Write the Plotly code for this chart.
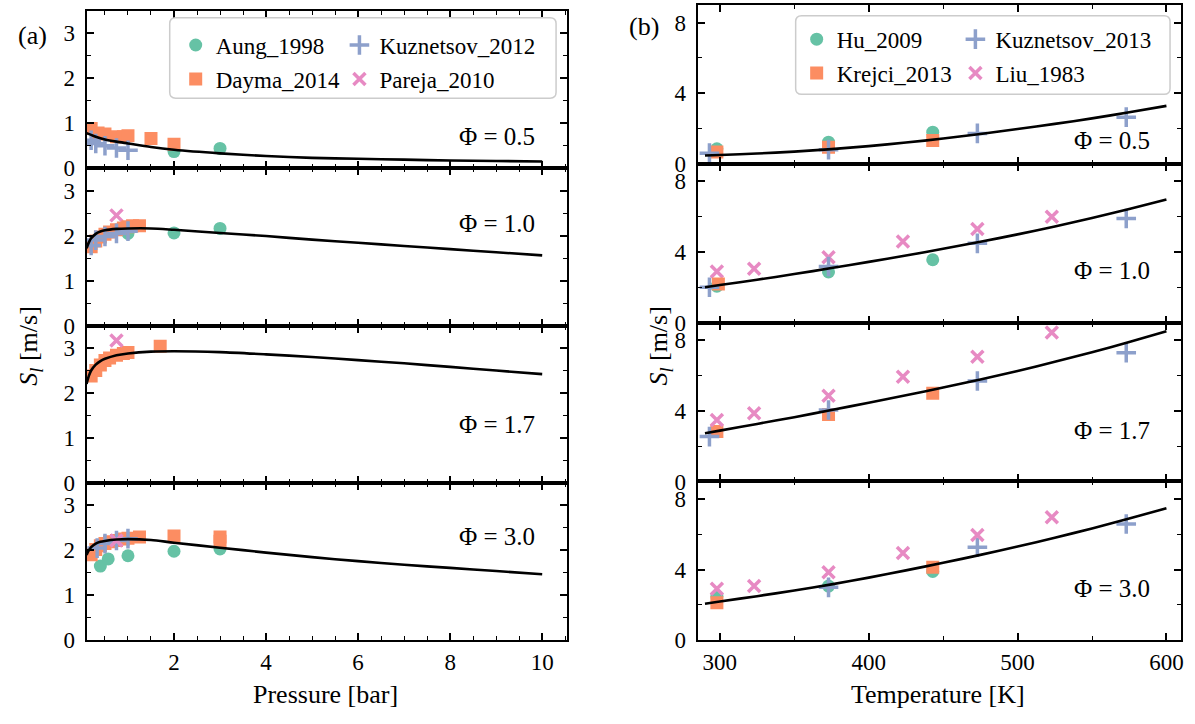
import plotly.graph_objects as go

FONT = "Liberation Serif"
C_GREEN = "#66c2a5"
C_ORANGE = "#fc8d62"
C_BLUE = "#8da0cb"
C_PINK = "#e78ac3"

# ---------------- (a) pressure dependence ----------------
# Phi = 0.5
p05_line = [0.1, 0.2, 0.3, 0.5, 0.75, 1, 1.5, 2, 3, 4, 5, 6, 7, 8, 9, 10]
s05_line = [0.78, 0.74, 0.70, 0.64, 0.59, 0.55, 0.47, 0.41, 0.33, 0.27, 0.23, 0.21, 0.19, 0.17, 0.16, 0.15]
aung05_p = [2.0, 3.0]
aung05_s = [0.37, 0.44]
dayma05_p = [0.2, 0.35, 0.5, 0.75, 0.9, 1.0, 1.5, 2.0]
dayma05_s = [0.88, 0.78, 0.76, 0.70, 0.70, 0.72, 0.66, 0.53]
kuz12_05_p = [0.2, 0.3, 0.5, 0.75, 1.0]
kuz12_05_s = [0.62, 0.55, 0.50, 0.45, 0.40]

# Phi = 1.0
p10_line = [0.1, 0.15, 0.2, 0.3, 0.4, 0.5, 0.75, 1.0, 1.5, 2, 3, 4, 5, 6, 7, 8, 9, 10]
s10_line = [1.72, 1.85, 1.94, 2.04, 2.09, 2.12, 2.15, 2.16, 2.16, 2.13, 2.06, 1.99, 1.91, 1.84, 1.77, 1.70, 1.63, 1.56]
aung10_p = [1.0, 2.0, 3.0]
aung10_s = [2.05, 2.06, 2.16]
dayma10_p = [0.2, 0.3, 0.4, 0.5, 0.6, 0.75, 0.9, 1.0, 1.1, 1.25]
dayma10_s = [1.75, 1.88, 1.97, 2.03, 2.08, 2.13, 2.17, 2.20, 2.22, 2.22]
kuz12_10_p = [0.2, 0.3, 0.5, 0.75, 1.0]
kuz12_10_s = [1.78, 1.90, 1.98, 2.05, 2.10]
pareja10_p = [0.75]
pareja10_s = [2.45]

# Phi = 1.7
p17_line = [0.1, 0.15, 0.2, 0.3, 0.4, 0.5, 0.75, 1.0, 1.5, 2, 3, 4, 5, 6, 7, 8, 9, 10]
s17_line = [2.2, 2.38, 2.5, 2.63, 2.71, 2.76, 2.84, 2.88, 2.92, 2.93, 2.91, 2.86, 2.80, 2.73, 2.66, 2.58, 2.50, 2.42]
dayma17_p = [0.2, 0.3, 0.4, 0.5, 0.6, 0.75, 0.9, 1.0, 1.7]
dayma17_s = [2.38, 2.50, 2.62, 2.72, 2.78, 2.84, 2.88, 2.90, 3.04]
pareja17_p = [0.75]
pareja17_s = [3.17]

# Phi = 3.0
p30_line = [0.1, 0.15, 0.2, 0.3, 0.4, 0.5, 0.75, 1.0, 1.5, 2, 3, 4, 5, 6, 7, 8, 9, 10]
s30_line = [1.9, 2.0, 2.07, 2.15, 2.19, 2.21, 2.24, 2.25, 2.23, 2.17, 2.06, 1.95, 1.85, 1.76, 1.68, 1.61, 1.54, 1.47]
aung30_p = [0.4, 0.57, 1.0, 2.0, 3.0]
aung30_s = [1.65, 1.81, 1.88, 1.98, 2.03]
dayma30_p = [0.2, 0.3, 0.4, 0.5, 0.6, 0.75, 0.9, 1.0, 1.25, 2.0, 3.0, 3.0]
dayma30_s = [1.90, 2.02, 2.10, 2.15, 2.19, 2.22, 2.25, 2.27, 2.30, 2.32, 2.30, 2.20]
kuz12_30_p = [0.33, 0.5, 0.75, 1.0]
kuz12_30_s = [2.05, 2.15, 2.22, 2.26]
pareja30_p = [0.75]
pareja30_s = [2.22]

# ---------------- (b) temperature dependence ----------------
T_line = [290, 300, 325, 350, 375, 400, 425, 450, 475, 500, 525, 550, 575, 600]
sT05_line = [0.47, 0.50, 0.58, 0.69, 0.83, 1.00, 1.20, 1.43, 1.69, 1.97, 2.26, 2.57, 2.92, 3.28]
sT10_line = [2.00, 2.13, 2.43, 2.75, 3.09, 3.44, 3.80, 4.18, 4.58, 5.00, 5.45, 5.93, 6.44, 6.97]
sT17_line = [2.73, 2.88, 3.26, 3.64, 4.05, 4.46, 4.88, 5.32, 5.78, 6.26, 6.78, 7.32, 7.90, 8.51]
sT30_line = [2.07, 2.20, 2.50, 2.82, 3.17, 3.55, 3.96, 4.39, 4.84, 5.31, 5.81, 6.34, 6.90, 7.48]

hu05_T = [298, 373, 443]
hu05_s = [0.85, 1.22, 1.79]
krejci05_T = [298, 373, 443]
krejci05_s = [0.66, 0.94, 1.32]
kuz13_05_T = [293, 373, 473, 573]
kuz13_05_s = [0.60, 0.80, 1.72, 2.64]

hu10_T = [298, 373, 443]
hu10_s = [2.06, 2.87, 3.56]
krejci10_T = [299]
krejci10_s = [2.19]
kuz13_10_T = [293, 373, 473, 573]
kuz13_10_s = [2.00, 3.18, 4.49, 5.90]
liu10_T = [298, 323, 373, 423, 473, 523]
liu10_s = [2.90, 3.05, 3.70, 4.59, 5.30, 6.00]

krejci17_T = [298, 373, 443]
krejci17_s = [2.83, 3.80, 4.99]
kuz13_17_T = [293, 373, 473, 573]
kuz13_17_s = [2.54, 4.05, 5.69, 7.29]
liu17_T = [298, 323, 373, 423, 473, 523]
liu17_s = [3.48, 3.86, 4.86, 5.93, 7.06, 8.44]

hu30_T = [298, 373, 443]
hu30_s = [2.50, 3.07, 3.90]
krejci30_T = [298, 443]
krejci30_s = [2.13, 4.14]
kuz13_30_T = [373, 473, 573]
kuz13_30_s = [3.00, 5.27, 6.59]
liu30_T = [298, 323, 373, 423, 473, 523]
liu30_s = [2.92, 3.07, 3.86, 4.95, 5.97, 6.97]

phi_labels = ["Φ = 0.5", "Φ = 1.0", "Φ = 1.7", "Φ = 3.0"]

# ---------------- figure ----------------
W, H = 1195, 724
fig = go.Figure()


def ax(i):
    return ("x" if i == 1 else f"x{i}"), ("y" if i == 1 else f"y{i}")


SYMS = {
    "circle": dict(symbol="circle", size=13),
    "square": dict(symbol="square", size=13),
    "plus": dict(symbol="cross-thin", size=14),
    "x": dict(symbol="x-thin", size=12),
}


def add_pts(xs, ys, i, name, color, kind, legend, show):
    xa, ya = ax(i)
    m = dict(SYMS[kind])
    m["color"] = color
    if kind in ("plus", "x"):
        m["line"] = dict(width=3.5, color=color)
    else:
        m["line"] = dict(width=0)
    fig.add_trace(go.Scatter(x=xs, y=ys, mode="markers", name=name, legendgroup=name,
                             showlegend=show, legend=legend, marker=m, xaxis=xa, yaxis=ya,
                             hoverinfo="x+y+name"))


def add_line(xs, ys, i):
    xa, ya = ax(i)
    fig.add_trace(go.Scatter(x=xs, y=ys, mode="lines", showlegend=False,
                             line=dict(color="black", width=2.6, shape="spline", smoothing=0.8),
                             xaxis=xa, yaxis=ya, hoverinfo="skip"))


# Left panels
add_pts(aung05_p, aung05_s, 1, "Aung_1998", C_GREEN, "circle", "legend", True)
add_pts(dayma05_p, dayma05_s, 1, "Dayma_2014", C_ORANGE, "square", "legend", True)
add_pts(kuz12_05_p, kuz12_05_s, 1, "Kuznetsov_2012", C_BLUE, "plus", "legend2", True)
add_pts(pareja10_p, pareja10_s, 2, "Pareja_2010", C_PINK, "x", "legend2", True)
add_line(p05_line, s05_line, 1)

add_pts(aung10_p, aung10_s, 2, "Aung_1998", C_GREEN, "circle", "legend", False)
add_pts(dayma10_p, dayma10_s, 2, "Dayma_2014", C_ORANGE, "square", "legend", False)
add_pts(kuz12_10_p, kuz12_10_s, 2, "Kuznetsov_2012", C_BLUE, "plus", "legend2", False)
add_line(p10_line, s10_line, 2)

add_pts(dayma17_p, dayma17_s, 3, "Dayma_2014", C_ORANGE, "square", "legend", False)
add_pts(pareja17_p, pareja17_s, 3, "Pareja_2010", C_PINK, "x", "legend2", False)
add_line(p17_line, s17_line, 3)

add_pts(aung30_p, aung30_s, 4, "Aung_1998", C_GREEN, "circle", "legend", False)
add_pts(dayma30_p, dayma30_s, 4, "Dayma_2014", C_ORANGE, "square", "legend", False)
add_pts(kuz12_30_p, kuz12_30_s, 4, "Kuznetsov_2012", C_BLUE, "plus", "legend2", False)
add_pts(pareja30_p, pareja30_s, 4, "Pareja_2010", C_PINK, "x", "legend2", False)
add_line(p30_line, s30_line, 4)

# Right panels
add_pts(hu05_T, hu05_s, 5, "Hu_2009", C_GREEN, "circle", "legend3", True)
add_pts(krejci05_T, krejci05_s, 5, "Krejci_2013", C_ORANGE, "square", "legend3", True)
add_pts(kuz13_05_T, kuz13_05_s, 5, "Kuznetsov_2013", C_BLUE, "plus", "legend4", True)
add_pts(liu10_T, liu10_s, 6, "Liu_1983", C_PINK, "x", "legend4", True)
add_line(T_line, sT05_line, 5)

add_pts(hu10_T, hu10_s, 6, "Hu_2009", C_GREEN, "circle", "legend3", False)
add_pts(krejci10_T, krejci10_s, 6, "Krejci_2013", C_ORANGE, "square", "legend3", False)
add_pts(kuz13_10_T, kuz13_10_s, 6, "Kuznetsov_2013", C_BLUE, "plus", "legend4", False)
add_line(T_line, sT10_line, 6)

add_pts(krejci17_T, krejci17_s, 7, "Krejci_2013", C_ORANGE, "square", "legend3", False)
add_pts(kuz13_17_T, kuz13_17_s, 7, "Kuznetsov_2013", C_BLUE, "plus", "legend4", False)
add_pts(liu17_T, liu17_s, 7, "Liu_1983", C_PINK, "x", "legend4", False)
add_line(T_line, sT17_line, 7)

add_pts(hu30_T, hu30_s, 8, "Hu_2009", C_GREEN, "circle", "legend3", False)
add_pts(krejci30_T, krejci30_s, 8, "Krejci_2013", C_ORANGE, "square", "legend3", False)
add_pts(kuz13_30_T, kuz13_30_s, 8, "Kuznetsov_2013", C_BLUE, "plus", "legend4", False)
add_pts(liu30_T, liu30_s, 8, "Liu_1983", C_PINK, "x", "legend4", False)
add_line(T_line, sT30_line, 8)

# ---------------- axes ----------------
def px_x(v):
    return v / W


def px_y(v):
    return 1 - v / H


left_dom = [px_x(86.7), px_x(568)]
right_dom = [px_x(698.7), px_x(1183.3)]
left_b = [11, 171.25, 331.5, 491.75, 652]
right_b = [5, 166.75, 328.5, 490.25, 652]

tickfont = dict(family=FONT, size=23, color="black")
common = dict(showline=True, linecolor="black", linewidth=2, mirror="allticks",
              ticks="inside", ticklen=7, tickwidth=1.6, tickcolor="black",
              showgrid=False, zeroline=False, tickfont=tickfont, fixedrange=True)

layout_axes = {}
for k in range(4):
    i = k + 1
    xa = "xaxis" if i == 1 else f"xaxis{i}"
    ya = "yaxis" if i == 1 else f"yaxis{i}"
    layout_axes[xa] = dict(common, domain=left_dom, range=[0.1, 10.54], anchor=ax(i)[1],
                           tickvals=[2, 4, 6, 8, 10], showticklabels=(k == 3),
                           minor=dict(ticks="inside", ticklen=4, tickwidth=1.2, tickcolor="black", dtick=0.5, tick0=0),
                           **({} if i == 1 else {"matches": "x"}))
    layout_axes[ya] = dict(common, domain=[px_y(left_b[k + 1]), px_y(left_b[k])], range=[0, 3.5],
                           anchor=ax(i)[0], tickvals=[0, 1, 2, 3], ticklabelstandoff=5,
                           minor=dict(ticks="inside", ticklen=4, tickwidth=1.2, tickcolor="black", dtick=0.5, tick0=0))
    j = k + 5
    xa = f"xaxis{j}"
    ya = f"yaxis{j}"
    layout_axes[xa] = dict(common, domain=right_dom, range=[285, 610], anchor=ax(j)[1],
                           tickvals=[300, 400, 500, 600], showticklabels=(k == 3),
                           minor=dict(ticks="inside", ticklen=4, tickwidth=1.2, tickcolor="black", dtick=50, tick0=0),
                           **({} if j == 5 else {"matches": "x5"}))
    layout_axes[ya] = dict(common, domain=[px_y(right_b[k + 1]), px_y(right_b[k])], range=[0, 9],
                           anchor=ax(j)[0], tickvals=[0, 4, 8], ticklabelstandoff=5,
                           minor=dict(ticks="inside", ticklen=4, tickwidth=1.2, tickcolor="black", dtick=2, tick0=0))

fig.update_layout(**layout_axes)

# ---------------- annotations ----------------
ann = []
txt = dict(family=FONT, size=26, color="black")
phifont = dict(family=FONT, size=25, color="black")
left_phi_y = [139, 228, 432, 546]
right_phi_y = [143, 275, 438, 599]
for k in range(4):
    ann.append(dict(text=phi_labels[k], x=px_x(538), y=px_y(left_phi_y[k]), xref="paper", yref="paper",
                    xanchor="right", yanchor="middle", showarrow=False, font=phifont))
    ann.append(dict(text=phi_labels[k], x=px_x(1154), y=px_y(right_phi_y[k]), xref="paper", yref="paper",
                    xanchor="right", yanchor="middle", showarrow=False, font=phifont))
ann += [
    dict(text="(a)", x=px_x(33), y=px_y(36), xref="paper", yref="paper", showarrow=False,
         xanchor="center", yanchor="middle", font=dict(family=FONT, size=26, color="black")),
    dict(text="(b)", x=px_x(645), y=px_y(27), xref="paper", yref="paper", showarrow=False,
         xanchor="center", yanchor="middle", font=dict(family=FONT, size=26, color="black")),
    dict(text="Pressure [bar]", x=px_x(326), y=px_y(707), xref="paper", yref="paper", showarrow=False,
         xanchor="center", yanchor="middle", font=txt),
    dict(text="Temperature [K]", x=px_x(940), y=px_y(707), xref="paper", yref="paper", showarrow=False,
         xanchor="center", yanchor="middle", font=txt),
    dict(text="<i>S</i><sub><i>l</i></sub> [m/s]", x=px_x(30), y=px_y(352), xref="paper", yref="paper",
         showarrow=False, textangle=-90, xanchor="center", yanchor="middle", font=txt),
    dict(text="<i>S</i><sub><i>l</i></sub> [m/s]", x=px_x(661), y=px_y(352), xref="paper", yref="paper",
         showarrow=False, textangle=-90, xanchor="center", yanchor="middle", font=txt),
]
fig.update_layout(annotations=ann)


# legend boxes (rounded rectangles)
def rounded(x0, y0, x1, y1, r=6):
    X = lambda v: px_x(v)
    Y = lambda v: px_y(v)
    return (f"M {X(x0 + r)},{Y(y0)} L {X(x1 - r)},{Y(y0)} Q {X(x1)},{Y(y0)} {X(x1)},{Y(y0 + r)} "
            f"L {X(x1)},{Y(y1 - r)} Q {X(x1)},{Y(y1)} {X(x1 - r)},{Y(y1)} "
            f"L {X(x0 + r)},{Y(y1)} Q {X(x0)},{Y(y1)} {X(x0)},{Y(y1 - r)} "
            f"L {X(x0)},{Y(y0 + r)} Q {X(x0)},{Y(y0)} {X(x0 + r)},{Y(y0)} Z")


shapes = [
    dict(type="path", path=rounded(170, 18, 557, 100), xref="paper", yref="paper",
         line=dict(color="#cccccc", width=1.5), fillcolor="rgba(255,255,255,0.8)", layer="above"),
    dict(type="path", path=rounded(797, 16, 1172, 96), xref="paper", yref="paper",
         line=dict(color="#cccccc", width=1.5), fillcolor="rgba(255,255,255,0.8)", layer="above"),
]
fig.update_layout(shapes=shapes)

leg_common = dict(orientation="v", bgcolor="rgba(0,0,0,0)", borderwidth=0, tracegroupgap=1,
                  font=dict(family=FONT, size=23, color="black"), xanchor="left", yanchor="top",
                  itemclick=False, itemdoubleclick=False)
fig.update_layout(
    legend=dict(leg_common, x=px_x(176), y=px_y(24)),
    legend2=dict(leg_common, x=px_x(340), y=px_y(24)),
    legend3=dict(leg_common, x=px_x(798), y=px_y(18)),
    legend4=dict(leg_common, x=px_x(957), y=px_y(18)),
)

fig.update_layout(width=W, height=H, margin=dict(l=0, r=0, t=0, b=0),
                  paper_bgcolor="white", plot_bgcolor="white", showlegend=True,
                  font=dict(family=FONT, color="black"))

fig.write_html("out.html", config={"displayModeBar": False},
               post_script="document.body.style.margin='0';document.body.style.overflow='hidden';")
